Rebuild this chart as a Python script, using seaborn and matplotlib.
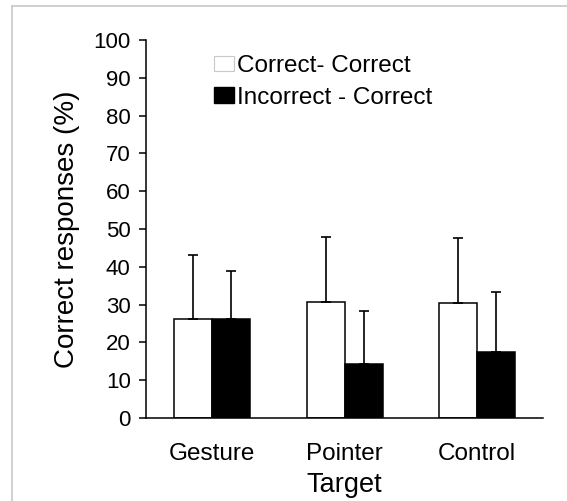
import pandas as pd
import matplotlib.pyplot as plt
import seaborn as sns
from matplotlib.patches import Patch
from matplotlib.lines import Line2D

# --------------------------
# Data
# --------------------------

targets = ["Gesture", "Pointer", "Control"]
conditions = ["Correct- Correct", "Incorrect - Correct"]

correct_correct = [26.3, 30.7, 30.4]
incorrect_correct = [26.3, 14.4, 17.4]

# top of each error bar
correct_correct_err = [43.0, 47.8, 47.6]
incorrect_correct_err = [39.0, 28.3, 33.4]

df = pd.DataFrame({
    "Target": targets * 2,
    "Condition": [conditions[0]] * 3 + [conditions[1]] * 3,
    "Value": correct_correct + incorrect_correct,
})

plt.rcParams["font.family"] = ["Liberation Sans", "DejaVu Sans"]

# --------------------------
# Plot
# --------------------------

fig = plt.figure(figsize=(5.67, 5.01), dpi=100)
ax = fig.add_axes([0.2575, 0.1657, 0.7005, 0.7545])

sns.barplot(
    data=df,
    x="Target",
    y="Value",
    hue="Condition",
    order=targets,
    hue_order=conditions,
    palette=["white", "black"],
    edgecolor="black",
    linewidth=1.1,
    width=0.575,
    errorbar=None,
    legend=False,
    ax=ax,
)

# one-sided error bars
tops = [correct_correct_err, incorrect_correct_err]
for cont, err_top in zip(ax.containers, tops):
    for bar, top in zip(cont, err_top):
        cx = bar.get_x() + bar.get_width() / 2
        h = bar.get_height()
        ax.errorbar(cx, h, yerr=[[0], [top - h]], fmt="none",
                    ecolor="black", elinewidth=1.2, capsize=3.5, capthick=1.2)

ax.set_ylim(0, 100)
ax.set_xlim(-0.5, 2.5)
ax.set_yticks(range(0, 101, 10))

for side in ["top", "right"]:
    ax.spines[side].set_visible(False)
ax.spines["left"].set_linewidth(1.1)
ax.spines["bottom"].set_linewidth(1.1)

ax.tick_params(axis="y", length=5, width=1.1, labelsize=16, pad=6)
ax.tick_params(axis="x", length=0, labelsize=17.5, pad=18)

ax.set_ylabel("Correct responses (%)", fontsize=20, labelpad=10)
ax.set_xlabel("Target", fontsize=19.5, labelpad=5)

handles = [
    Patch(facecolor="white", edgecolor="#c8c8c8", linewidth=0.8),
    Patch(facecolor="black", edgecolor="black"),
]
ax.legend(
    handles, conditions,
    loc="upper left",
    bbox_to_anchor=(0.115, 1.018),
    frameon=False,
    fontsize=17.5,
    handlelength=0.85,
    handleheight=0.6,
    handletextpad=0.12,
    labelspacing=0.4,
)

# light gray frame around the figure
fig.add_artist(Line2D([12 / 567, 1], [1 - 6 / 501, 1 - 6 / 501],
                      transform=fig.transFigure, color="#c8c8c8", linewidth=1.2))
fig.add_artist(Line2D([12 / 567, 12 / 567], [0, 1 - 6 / 501],
                      transform=fig.transFigure, color="#c8c8c8", linewidth=1.2))

fig.savefig("out.png", dpi=100)
